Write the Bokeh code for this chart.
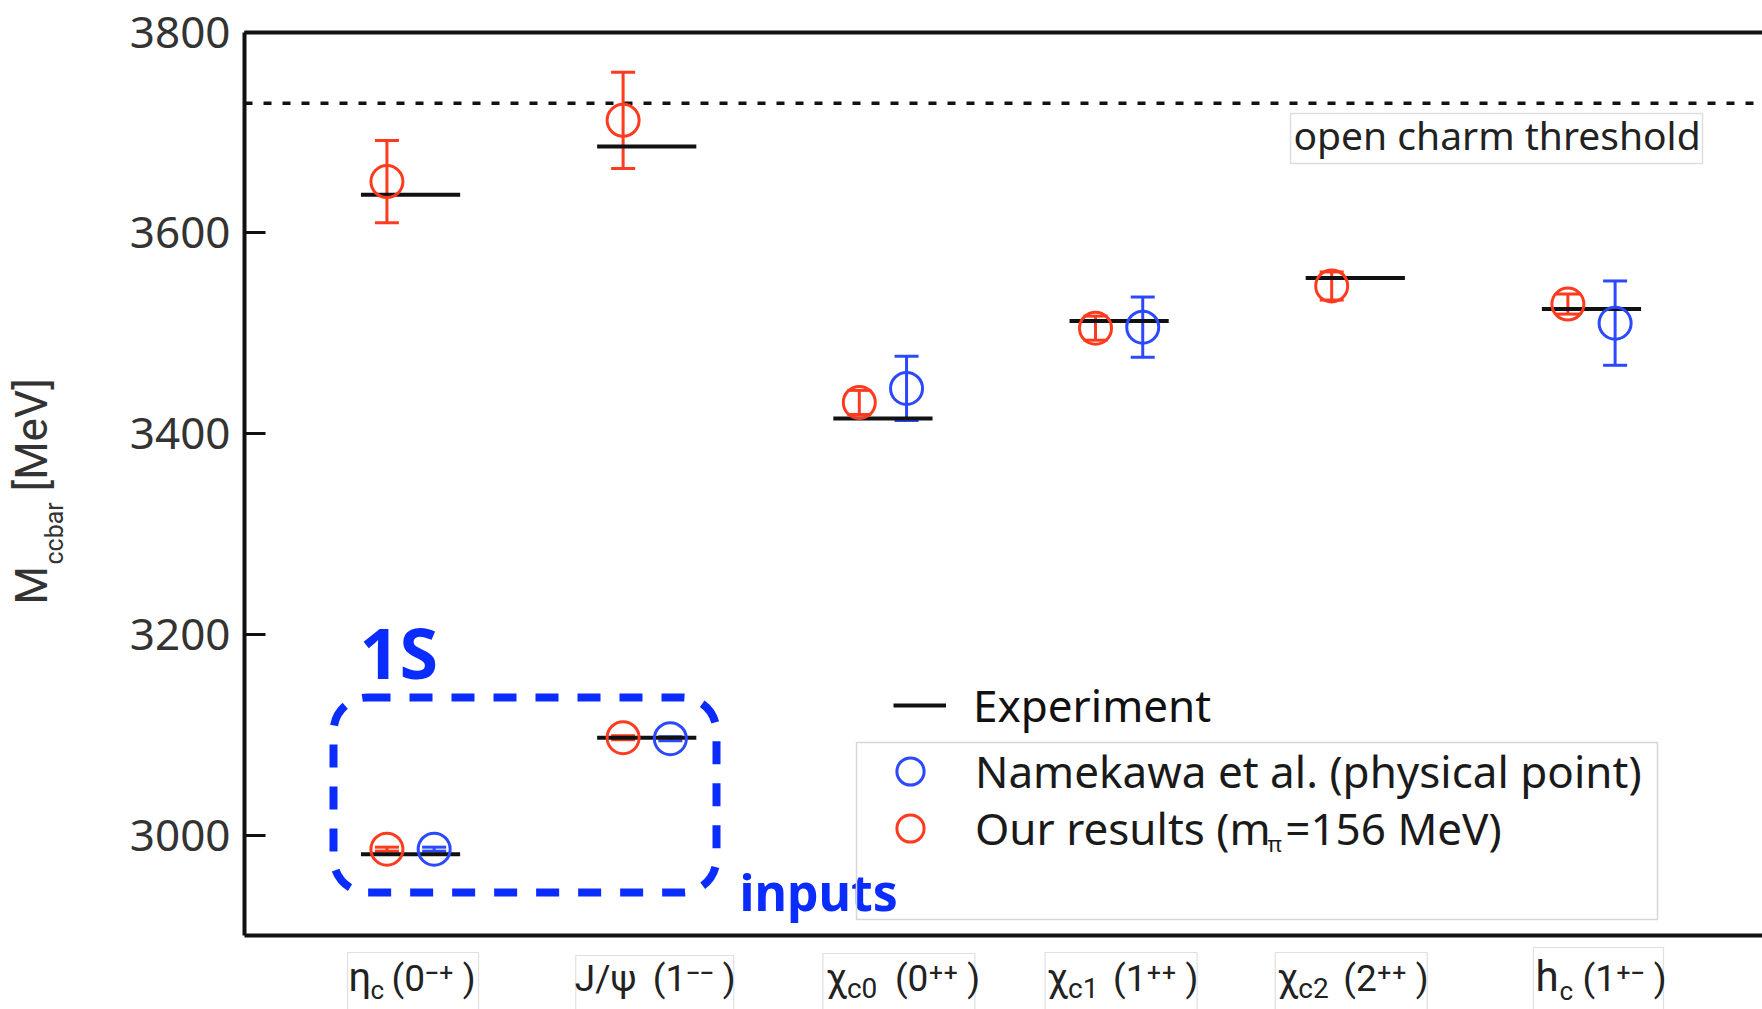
import math
import numpy as np
from bokeh.plotting import figure
from bokeh.models import (ColumnDataSource, Range1d, LinearAxis, FixedTicker, Whisker,
                          TeeHead, Legend, LegendItem, Label, BoxAnnotation)
from bokeh.embed import file_html
from bokeh.resources import INLINE

nan = float("nan")

# ---- data -------------------------------------------------------------
states = ["ηc", "J/ψ", "χc0", "χc1", "χc2", "hc"]
state_pos = [1, 2, 3, 4, 5, 6]

# experimental masses [MeV]: excited S-waves (top row) and P-waves
exp_mass = [3638, 3686, 3415, 3512, 3555, 3524]
# ground-state (1S) masses, used as inputs
exp_mass_1s = [2981, 3097]

# our results (m_pi = 156 MeV)
ours_mass = [3651, 3712, 3431, 3505, 3547, 3529]
ours_err = [41, 48, 12, 12, 14, 10]
ours_mass_1s = [2986, 3097]
ours_err_1s = [2, 2]

# Namekawa et al. (physical point)
nam_mass = [nan, nan, 3445, 3506, nan, 3510]
nam_err = [nan, nan, 32, 30, nan, 42]
nam_mass_1s = [2986, 3096]
nam_err_1s = [2, 2]

open_charm_threshold = 3729
y_ticks = [3000, 3200, 3400, 3600, 3800]
y_bounds = (2900, 3800)

# state labels: symbol, subscript, J^PC
state_symbol = ["η", "J/ψ", "χ", "χ", "χ", "h"]
state_sub = ["c", "", "c0", "c1", "c2", "c"]
state_jpc = ["(0⁻⁺ )", "(1⁻⁻ )", "(0⁺⁺ )", "(1⁺⁺ )", "(2⁺⁺ )", "(1⁺⁻ )"]

# ---- geometry / styling ----------------------------------------------
# The plotting frame covers the whole canvas; the axes sit at fixed
# data locations inside it so that every label can be placed freely.
W, H = 1762, 1009
AXIS_PX_L, AXIS_PX_T, AXIS_PX_B = 244, 31.5, 935     # box of the axes, canvas px
AXIS_X = 0.297                                      # data x of the left axis
X_HI = 6.724                                        # data x at the right canvas edge
PX_PER_UNIT = (W - AXIS_PX_L) / (X_HI - AXIS_X)
X_LO = AXIS_X - AXIS_PX_L / PX_PER_UNIT
PX_PER_MEV = (AXIS_PX_B - AXIS_PX_T) / (y_bounds[1] - y_bounds[0])
Y_HI = y_bounds[1] + AXIS_PX_T / PX_PER_MEV
Y_LO = y_bounds[0] - (H - AXIS_PX_B) / PX_PER_MEV

RED = "#ff3b1f"
BLUE = "#2b49ff"
ANN_BLUE = "#0b2cff"
INK = "#111111"
NARROW = "Roboto"
SANS = "Noto Sans"

DODGE = 0.1        # horizontal offset of the two lattice results
EXP_HALF = 0.21    # half length of the experimental bars
BASE_SHIFT = 0.38  # label anchor -> alphabetic baseline, in em


def sy(canvas_y):
    """canvas pixel row -> screen y measured upward from the bottom"""
    return H - canvas_y


def base_y(baseline, size):
    """screen y for a label whose baseline should sit on canvas row `baseline`"""
    return sy(baseline - BASE_SHIFT * size)


# ---- sources ----------------------------------------------------------
exp_x = state_pos + state_pos[:2]
exp_y = exp_mass + exp_mass_1s
exp_src = ColumnDataSource(dict(
    x0=[x - EXP_HALF for x in exp_x],
    x1=[x + EXP_HALF for x in exp_x],
    y=exp_y))


def result_source(pos, mass, err, mass_1s, err_1s, shift):
    xs, ys, es = [], [], []
    for x, m, e in zip(pos, mass, err):
        if not np.isnan(m):
            xs.append(x + shift); ys.append(m); es.append(e)
    for x, m, e in zip(pos[:2], mass_1s, err_1s):
        xs.append(x + shift); ys.append(m); es.append(e)
    return ColumnDataSource(dict(
        x=xs, y=ys,
        upper=[y + e for y, e in zip(ys, es)],
        lower=[y - e for y, e in zip(ys, es)]))


ours_src = result_source(state_pos, ours_mass, ours_err, ours_mass_1s, ours_err_1s, -DODGE)
nam_src = result_source(state_pos, nam_mass, nam_err, nam_mass_1s, nam_err_1s, +DODGE)

# ---- figure -----------------------------------------------------------
p = figure(width=W, height=H, output_backend="svg", toolbar_location=None,
           x_range=Range1d(X_LO, X_HI), y_range=Range1d(Y_LO, Y_HI),
           min_border=0, x_axis_type=None, y_axis_type=None)
p.outline_line_color = None
p.grid.visible = False
p.background_fill_color = "white"
p.border_fill_color = "white"

# left axis
yax = LinearAxis(ticker=FixedTicker(ticks=y_ticks), fixed_location=AXIS_X, bounds=y_bounds)
yax.axis_line_width = 4
yax.axis_line_color = INK
yax.major_tick_in = 21
yax.major_tick_out = 0
yax.major_tick_line_width = 3
yax.major_tick_line_color = INK
yax.minor_tick_line_color = None
yax.major_label_text_font = SANS
yax.major_label_text_font_size = "44px"
yax.major_label_text_color = "#333333"
yax.major_label_standoff = 14
p.add_layout(yax, "left")

# bottom and top frame lines
for place, loc in (("below", y_bounds[0]), ("above", y_bounds[1])):
    ax = LinearAxis(ticker=FixedTicker(ticks=[]), fixed_location=loc, bounds=(AXIS_X, X_HI))
    ax.axis_line_width = 4
    ax.axis_line_color = INK
    ax.major_tick_line_color = None
    ax.minor_tick_line_color = None
    p.add_layout(ax, place)

# open charm threshold
p.line([AXIS_X, X_HI], [open_charm_threshold, open_charm_threshold],
       line_color=INK, line_width=3.5, line_dash="8 11")
p.add_layout(BoxAnnotation(left=1290, right=1702, top=sy(113), bottom=sy(163),
                           left_units="screen", right_units="screen",
                           top_units="screen", bottom_units="screen",
                           fill_color=None, line_color="#dedede", line_alpha=1, line_width=1.5))
p.add_layout(Label(x=1293, y=base_y(149, 39), x_units="screen", y_units="screen",
                   text="open charm threshold", text_font=SANS, text_font_size="39px",
                   text_color="#222222", text_align="left", text_baseline="alphabetic"))

# experimental values
r_exp = p.segment(x0="x0", y0="y", x1="x1", y1="y", source=exp_src,
                  line_color=INK, line_width=4)

# lattice results with error bars
for src, col in ((nam_src, BLUE), (ours_src, RED)):
    p.add_layout(Whisker(source=src, base="x", upper="upper", lower="lower",
                         dimension="height", line_color=col, line_width=3,
                         upper_head=TeeHead(size=24, line_color=col, line_width=3),
                         lower_head=TeeHead(size=24, line_color=col, line_width=3)))
r_nam = p.scatter("x", "y", source=nam_src, marker="circle", size=32,
                  fill_color=None, line_color=BLUE, line_width=3)
r_ours = p.scatter("x", "y", source=ours_src, marker="circle", size=32,
                   fill_color=None, line_color=RED, line_width=3)

# 1S inputs highlight
p.add_layout(BoxAnnotation(left=333, right=716, top=sy(697), bottom=sy(892),
                           left_units="screen", right_units="screen",
                           top_units="screen", bottom_units="screen",
                           fill_color=None, line_color=ANN_BLUE, line_alpha=1, line_width=8,
                           line_dash="23 19", border_radius=34))
p.add_layout(Label(x=359, y=base_y(678, 70), x_units="screen", y_units="screen",
                   text="1S", text_font=SANS, text_font_style="bold", text_font_size="70px",
                   text_color=ANN_BLUE, text_align="left", text_baseline="alphabetic"))
p.add_layout(Label(x=739, y=base_y(910, 50), x_units="screen", y_units="screen",
                   text="inputs", text_font=SANS, text_font_style="bold", text_font_size="50px",
                   text_color=ANN_BLUE, text_align="left", text_baseline="alphabetic"))

# legends (one per row so each row can be placed on its own)
legend_style = dict(padding=0, margin=0, spacing=0, border_line_color=None,
                    background_fill_alpha=0, label_text_font=SANS,
                    label_text_font_size="44px")
p.add_layout(Legend(items=[LegendItem(label="Experiment", renderers=[r_exp])],
                    location=(893, sy(735)), glyph_width=53, glyph_height=60,
                    label_height=60, label_standoff=27, label_text_color=INK,
                    **legend_style))
p.add_layout(Legend(items=[LegendItem(label="Namekawa et al. (physical point)",
                                      renderers=[r_nam])],
                    location=(876, sy(805)), glyph_width=68, glyph_height=68,
                    label_standoff=31, label_text_color="#1a1a1a", **legend_style))
p.add_layout(Legend(items=[LegendItem(label="Our results (m\u2004=156 MeV)",
                                      renderers=[r_ours])],
                    location=(876, sy(862)), glyph_width=68, glyph_height=68,
                    label_standoff=31, label_text_color="#1a1a1a", **legend_style))
p.add_layout(BoxAnnotation(left=856, right=1657, top=sy(742), bottom=sy(919),
                           left_units="screen", right_units="screen",
                           top_units="screen", bottom_units="screen",
                           fill_color=None, line_color="#d6d6d6", line_alpha=1, line_width=1.5))
p.add_layout(Label(x=1267, y=base_y(851, 22), x_units="screen", y_units="screen",
                   text="π", text_font=SANS, text_font_size="22px", text_color="#1a1a1a",
                   text_align="left", text_baseline="alphabetic"))

# y axis title  M_ccbar [MeV], reading upwards
for txt, bx, start, size in (("M", 48, 604, 44), ("ccbar", 63, 564, 25),
                             ("[MeV]", 48, 491, 44)):
    p.add_layout(Label(x=bx - BASE_SHIFT * size, y=sy(start), x_units="screen", y_units="screen",
                       text=txt, angle=math.pi / 2, text_font=NARROW,
                       text_font_size=f"{size}px", text_color="#333333",
                       text_align="left", text_baseline="alphabetic"))

# state labels below the axis (pixel offsets from the state position)
main_dx = [-62, -72, -57, -72, -78, -56]
main_size = [40, 37, 38, 38, 38, 42]
sub_dx = [-40, 0, -36, -51, -57, -32]
sub_base = [999, 999, 999, 999, 999, 1000]
sub_size = [26, 26, 28, 28, 28, 26]
jpc_dx = [-19, 6, 12, -6, -12, -9]
jpc_size = 37
box_edges = [(-63, 68, 952), (-71, 87, 955), (-60, 92, 953),
             (-74, 78, 952), (-80, 72, 952), (-58, 72, 947)]
for i, xpos in enumerate(state_pos):
    lo, hi, top = box_edges[i]
    p.add_layout(BoxAnnotation(left=xpos + lo / PX_PER_UNIT, right=xpos + hi / PX_PER_UNIT,
                               top=sy(top), bottom=sy(H + 40),
                               top_units="screen", bottom_units="screen",
                               fill_color=None, line_color="#e0e0e0", line_alpha=1,
                               line_width=1.2))
    p.add_layout(Label(x=xpos, y=base_y(992, main_size[i]), y_units="screen",
                       x_offset=main_dx[i], text=state_symbol[i], text_font=NARROW,
                       text_font_size=f"{main_size[i]}px", text_color="#222222",
                       text_align="left", text_baseline="alphabetic"))
    if state_sub[i]:
        p.add_layout(Label(x=xpos, y=base_y(sub_base[i], sub_size[i]), y_units="screen",
                           x_offset=sub_dx[i], text=state_sub[i], text_font=NARROW,
                           text_font_size=f"{sub_size[i]}px", text_color="#222222",
                           text_align="left", text_baseline="alphabetic"))
    p.add_layout(Label(x=xpos, y=base_y(992, jpc_size), y_units="screen",
                       x_offset=jpc_dx[i], text=state_jpc[i], text_font=NARROW,
                       text_font_size=f"{jpc_size}px", text_color="#222222",
                       text_align="left", text_baseline="alphabetic"))

open("out.html", "w").write(file_html(p, INLINE))
